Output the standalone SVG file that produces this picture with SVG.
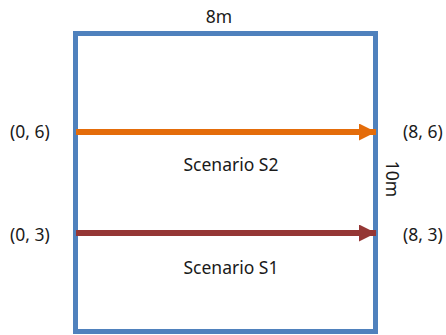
<svg xmlns="http://www.w3.org/2000/svg" width="446" height="335" viewBox="0 0 446 335">
  <defs>
    <style>
      text { font-family: "Noto Sans", "Open Sans", "Noto Sans CJK KR", sans-serif; font-size: 17.5px; fill: #1a1a1a; }
      .mid { text-anchor: middle; }
    </style>
    <marker id="headOrange" markerUnits="userSpaceOnUse" markerWidth="18" markerHeight="18" refX="17" refY="8.5" orient="auto">
      <path d="M0,0 L17,8.5 L0,17 Z" fill="#E46C0A"/>
    </marker>
    <marker id="headRed" markerUnits="userSpaceOnUse" markerWidth="18" markerHeight="18" refX="17" refY="8.5" orient="auto">
      <path d="M0,0 L17,8.5 L0,17 Z" fill="#953735"/>
    </marker>
  </defs>
  <rect width="446" height="335" fill="#ffffff"/>

  <!-- room outline -->
  <g id="room">
    <rect x="75.5" y="33.5" width="300" height="298" fill="none" stroke="#4F81BD" stroke-width="5"/>
  </g>

  <!-- dimension labels -->
  <g id="width-label"><text class="mid" x="219" y="23">8m</text></g>
  <g id="height-label"><text class="mid" transform="translate(386,179) rotate(90)">10m</text></g>

  <!-- endpoints -->
  <g id="p06"><text class="mid" x="30" y="138">(0, 6)</text></g>
  <g id="p86"><text class="mid" x="423" y="138">(8, 6)</text></g>
  <g id="p03"><text class="mid" x="30" y="241">(0, 3)</text></g>
  <g id="p83"><text class="mid" x="423" y="241">(8, 3)</text></g>

  <!-- scenario labels -->
  <g id="s2-label"><text class="mid" x="231" y="171">Scenario S2</text></g>
  <g id="s1-label"><text class="mid" x="231" y="274">Scenario S1</text></g>

  <!-- trajectories -->
  <g id="connectors">
    <line x1="76" y1="132" x2="376" y2="132" stroke="#E46C0A" stroke-width="6" marker-end="url(#headOrange)"/>
    <line x1="76" y1="233" x2="376" y2="233" stroke="#953735" stroke-width="6" marker-end="url(#headRed)"/>
  </g>
</svg>
